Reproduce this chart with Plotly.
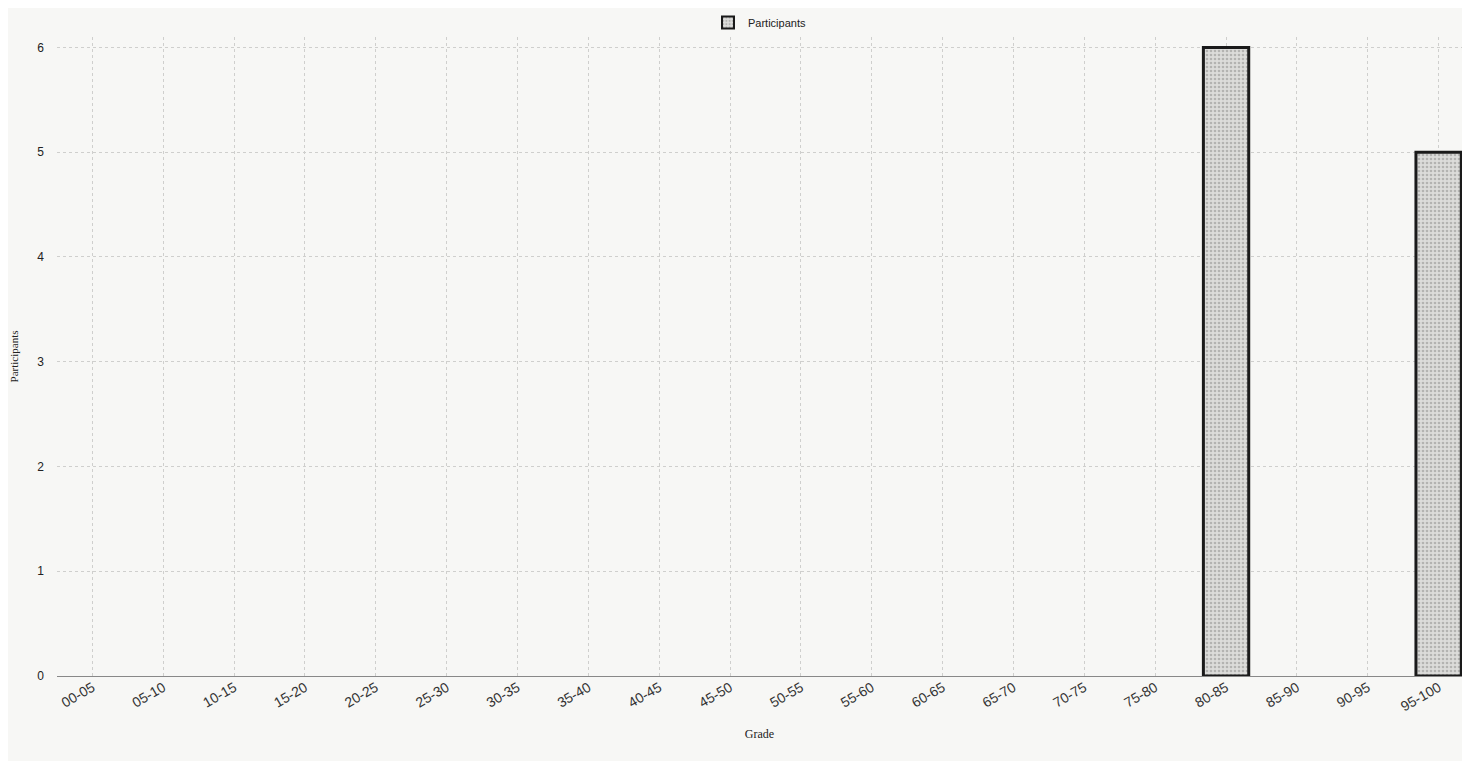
import plotly.graph_objects as go

# grade bands and number of participants in each
grades = ['00-05', '05-10', '10-15', '15-20', '20-25', '25-30', '30-35', '35-40',
          '40-45', '45-50', '50-55', '55-60', '60-65', '65-70', '70-75', '75-80',
          '80-85', '85-90', '90-95', '95-100']
participants = [0, 0, 0, 0, 0, 0, 0, 0, 0, 0, 0, 0, 0, 0, 0, 0, 6, 0, 0, 5]
y_ticks = [0, 1, 2, 3, 4, 5, 6]

# no outline on empty bars
outline = [3 if v > 0 else 0 for v in participants]
bar_pattern = dict(shape='.', fgcolor='#8a8a88', bgcolor='#dcdcda', size=4, solidity=0.35)

fig = go.Figure()
fig.add_trace(go.Bar(
    x=grades, y=participants, name='Participants',
    width=0.64, showlegend=False,
    marker=dict(color='#d6d6d4', line=dict(color='#1a1a1a', width=outline),
                pattern=bar_pattern),
))
# legend entry only
fig.add_trace(go.Bar(
    x=[None], y=[None], name='Participants', showlegend=True,
    marker=dict(color='#d6d6d4', line=dict(color='#1a1a1a', width=2),
                pattern=bar_pattern),
))

# page body adds 8px margin, so the figure is drawn 16px smaller
fig.update_layout(
    width=1454, height=753,
    paper_bgcolor='#f7f7f5', plot_bgcolor='#f7f7f5',
    margin=dict(l=47, r=0, t=12, b=85),
    font=dict(family='Liberation Sans, Arial', size=12, color='#222'),
    showlegend=True,
    legend=dict(orientation='h', x=0.5, xanchor='center', y=1.0, yanchor='bottom',
                font=dict(size=11), bgcolor='rgba(0,0,0,0)', itemwidth=30),
    barmode='overlay',
)
fig.update_xaxes(
    type='category', range=[-0.5, 19.33], tickangle=-30, tickfont=dict(size=14, color='#333'),
    showgrid=True, gridcolor='#cfcfcd', griddash='dot', gridwidth=1,
    showline=False, zeroline=False,
    title=dict(text='Grade', font=dict(size=12, family='Liberation Serif'), standoff=16),
)
fig.update_yaxes(
    range=[0, 6.1], tickvals=y_ticks, tickfont=dict(size=12, color='#222'),
    showgrid=True, gridcolor='#cfcfcd', griddash='dot', gridwidth=1,
    zeroline=True, zerolinecolor='#888', zerolinewidth=1,
    ticklabelstandoff=12,
    title=dict(text='Participants', font=dict(size=11, family='Liberation Serif'), standoff=22),
)

fig.write_html("out.html")
